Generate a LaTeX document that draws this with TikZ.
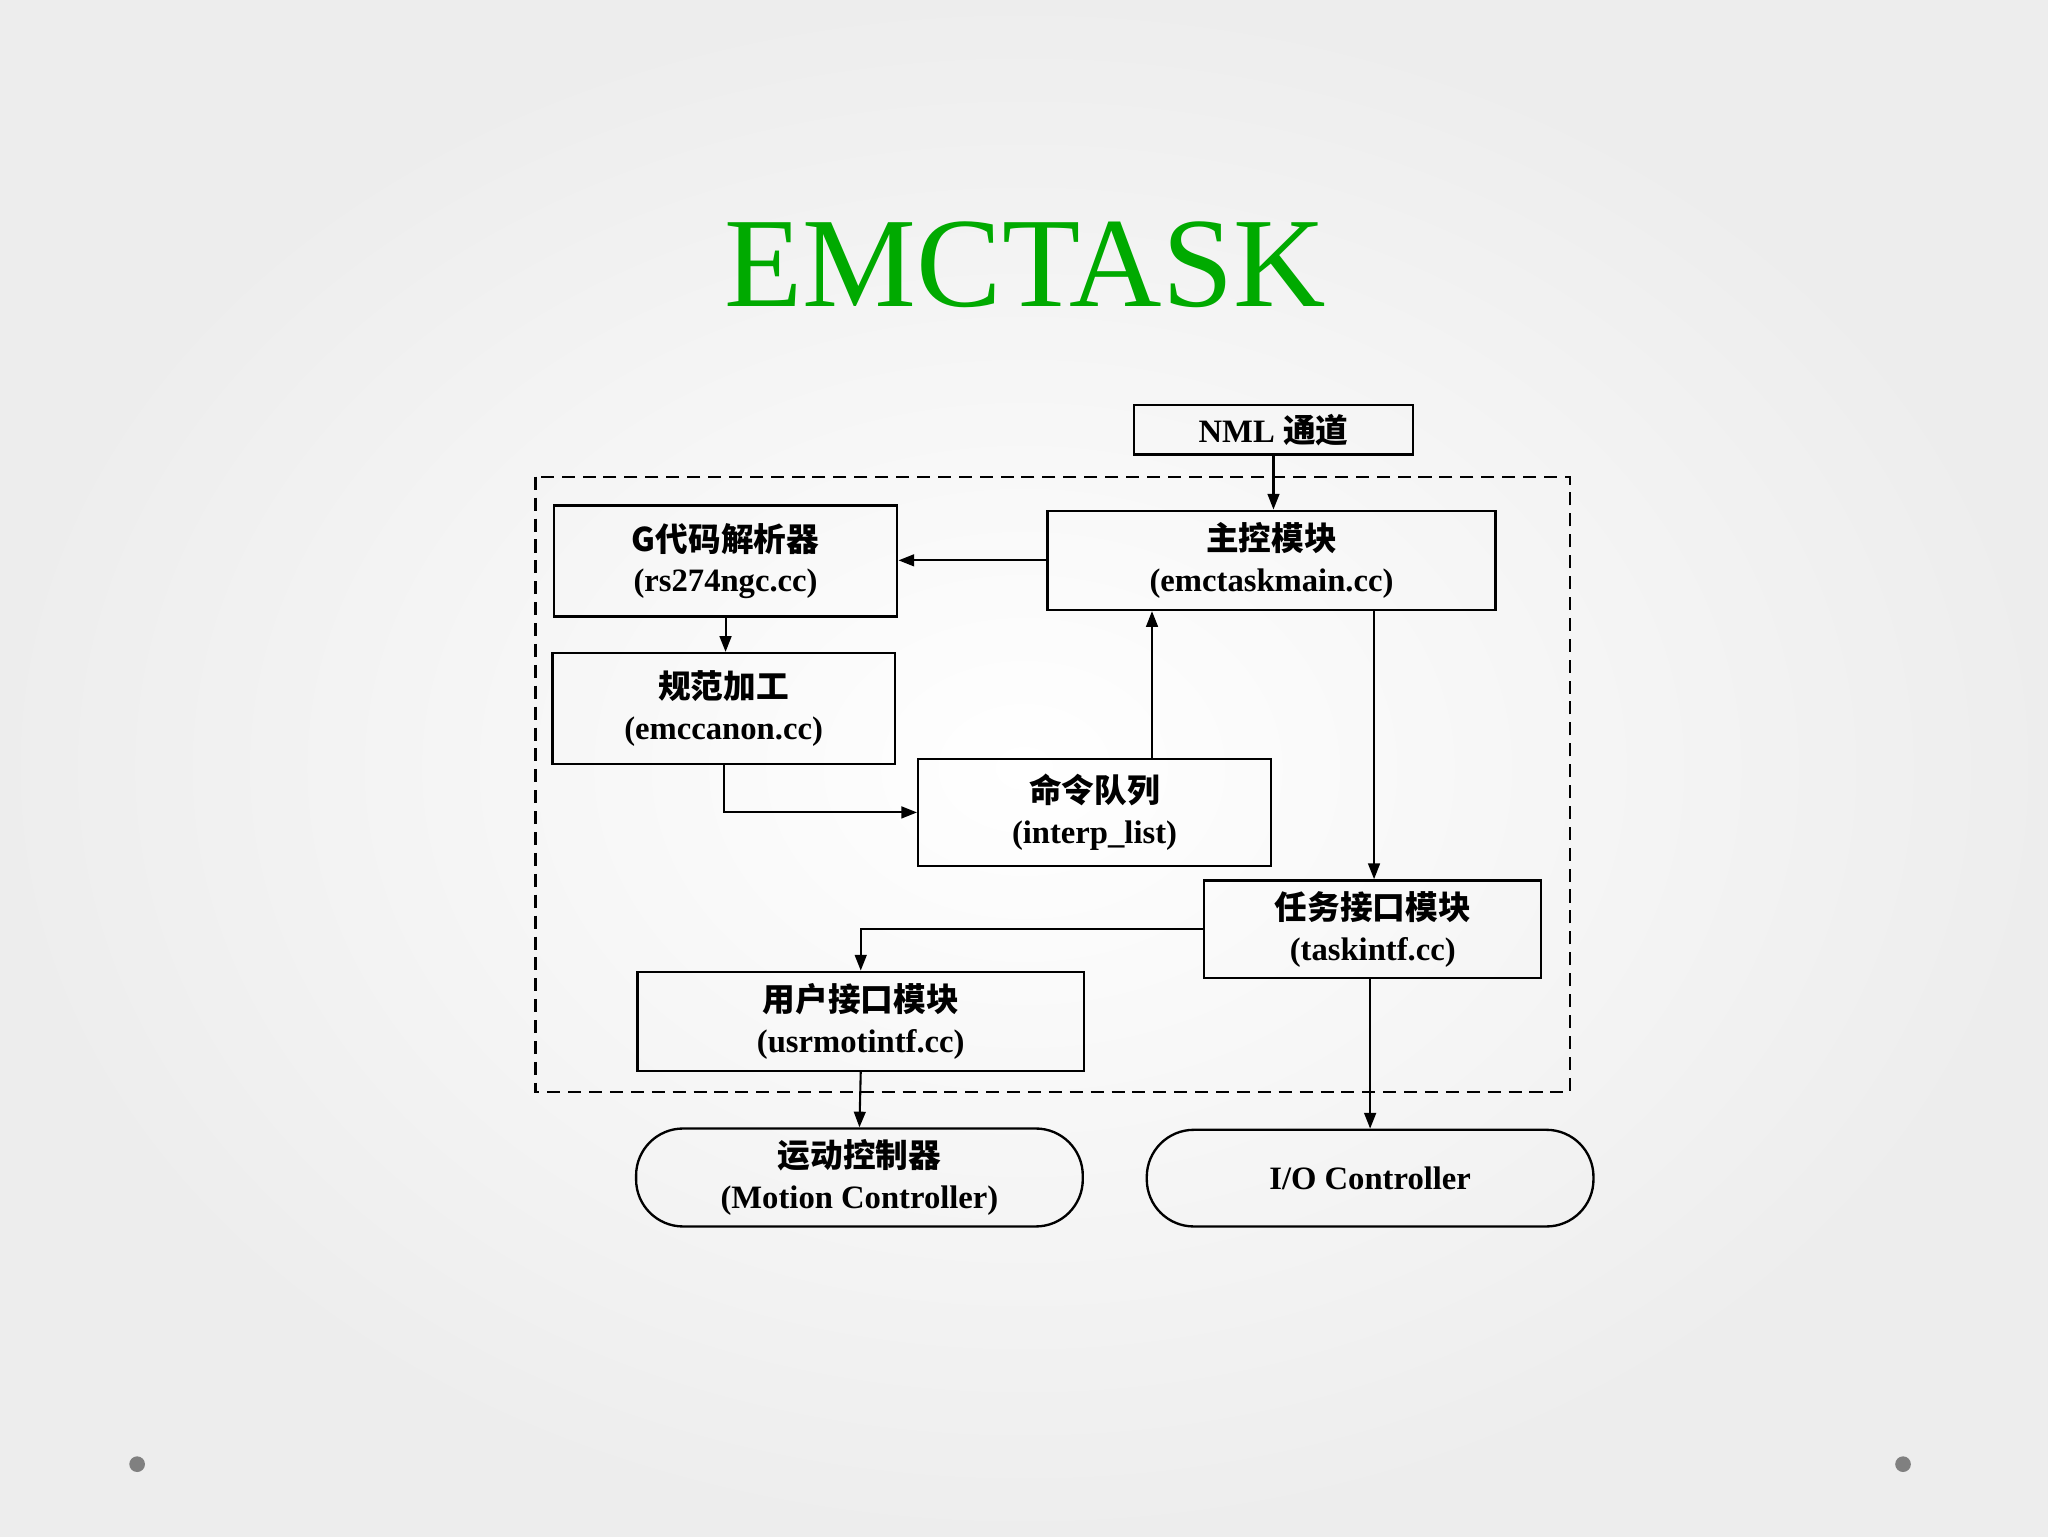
\documentclass[tikz,border=0pt]{standalone}
\usepackage{fontspec}
\setmainfont{Liberation Serif}
\newfontfamily\cjk{Noto Sans CJK SC}
\usetikzlibrary{arrows.meta,calc}
\definecolor{titlegreen}{RGB}{0,170,0}
\tikzset{
  box/.style={draw,line width=1.8pt,align=center,inner sep=0pt,font=\fontsize{25}{31}\selectfont\bfseries},
  conn/.style={line width=1.6pt,-{Triangle[length=12pt,width=9pt]}},
}
\begin{document}
\begin{tikzpicture}[x=1pt,y=-1pt]
\useasboundingbox (0,0) rectangle (1568,1176);
\shade[inner color=white,outer color=gray!14] (0,0) rectangle (1568,1176);
\node[text=titlegreen,font=\fontsize{98}{104}\selectfont] (title) at (785,203) {EMCTASK};
\draw[line width=1.6pt,dash pattern=on 10pt off 6pt] (410,365) rectangle (1202,836);
\node[box,minimum width=214pt,minimum height=38pt] (nml) at (975,329) {NML {\cjk 通道}};
\node[box,minimum width=263pt,minimum height=85pt] (g) at (555.5,429.5) {{\cjk G代码解析器}\\(rs274ngc.cc)};
\node[box,minimum width=343pt,minimum height=76pt] (main) at (973.5,429) {{\cjk 主控模块}\\(emctaskmain.cc)};
\node[box,minimum width=262pt,minimum height=85pt] (canon) at (554,542.5) {{\cjk 规范加工}\\(emccanon.cc)};
\node[box,minimum width=270pt,minimum height=82pt] (queue) at (838,622) {{\cjk 命令队列}\\(interp\_list)};
\node[box,minimum width=258pt,minimum height=75pt] (task) at (1051,711.5) {{\cjk 任务接口模块}\\(taskintf.cc)};
\node[box,minimum width=342pt,minimum height=76pt] (usr) at (659,782) {{\cjk 用户接口模块}\\(usrmotintf.cc)};
\node[box,rounded corners=36pt,minimum width=342pt,minimum height=75pt] (motion) at (658,901.5) {{\cjk 运动控制器}\\(Motion Controller)};
\node[box,rounded corners=36pt,minimum width=342pt,minimum height=74pt] (io) at (1049,902) {I/O Controller};
\coordinate (mainout) at ($(main.south)+(78.5,0)$);
\draw[conn] (nml.south) -- (nml.south |- main.north);
\draw[conn] (main.west) -- (g.east |- main.west);
\draw[conn] (g.south) -- (g.south |- canon.north);
\draw[conn] (canon.south) |- (queue.west);
\draw[conn] ($(queue.north)+(44,0)$) -- ($(main.south)+(-91.5,0)$);
\draw[conn] (mainout) -- (mainout |- task.north);
\draw[conn] (task.west) -| (usr.north);
\draw[conn] (usr.south) -- (motion.north);
\draw[conn] (io.north |- task.south) -- (io.north);
\fill[gray] (105,1121) circle (6pt);
\fill[gray] (1457,1121) circle (6pt);
\end{tikzpicture}
\end{document}
